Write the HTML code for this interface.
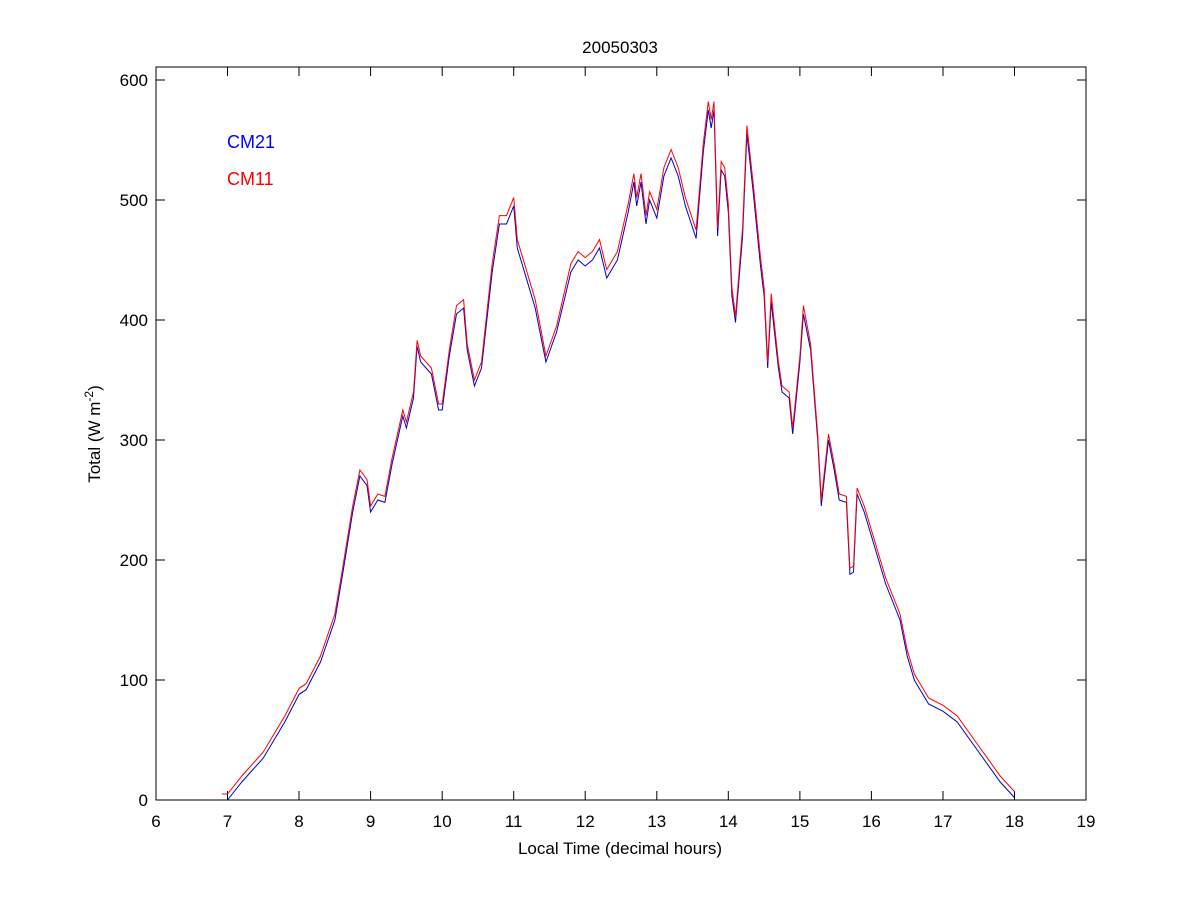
<!DOCTYPE html>
<html><head><meta charset="utf-8"><style>
html,body{margin:0;padding:0;background:#fff;}
svg{display:block;font-family:"Liberation Sans",sans-serif;}
</style></head><body>
<svg id="s" width="1200" height="900" viewBox="0 0 1200 900">
<rect width="1200" height="900" fill="#fff"/>
<rect x="156" y="67" width="930" height="733" fill="#fff" stroke="#000" stroke-width="1"/>
<g stroke="#000" stroke-width="1">
<path d="M227.5 800v-9M299 800v-9M370.6 800v-9M442.2 800v-9M513.7 800v-9M585.2 800v-9M656.8 800v-9M728.3 800v-9M799.9 800v-9M871.4 800v-9M943 800v-9M1014.5 800v-9
M227.5 67v9M299 67v9M370.6 67v9M442.2 67v9M513.7 67v9M585.2 67v9M656.8 67v9M728.3 67v9M799.9 67v9M871.4 67v9M943 67v9M1014.5 67v9
M156 680h9M156 560h9M156 440h9M156 320h9M156 200h9M156 80h9
M1086 680h-9M1086 560h-9M1086 440h-9M1086 320h-9M1086 200h-9M1086 80h-9"/>
</g>
<g font-size="17" fill="#000" text-anchor="middle">
<text x="156" y="827">6</text><text x="227.5" y="827">7</text><text x="299" y="827">8</text><text x="370.6" y="827">9</text><text x="442.2" y="827">10</text><text x="513.7" y="827">11</text><text x="585.2" y="827">12</text><text x="656.8" y="827">13</text><text x="728.3" y="827">14</text><text x="799.9" y="827">15</text><text x="871.4" y="827">16</text><text x="943" y="827">17</text><text x="1014.5" y="827">18</text><text x="1086" y="827">19</text>
</g>
<g font-size="17" fill="#000" text-anchor="end">
<text x="148" y="806">0</text><text x="148" y="686">100</text><text x="148" y="566">200</text><text x="148" y="446">300</text><text x="148" y="326">400</text><text x="148" y="206">500</text><text x="148" y="86">600</text>
</g>
<text x="620" y="53" font-size="17" text-anchor="middle">20050303</text>
<text x="620" y="854" font-size="17" text-anchor="middle">Local Time (decimal hours)</text>
<text transform="translate(100,434) rotate(-90)" font-size="17" text-anchor="middle">Total (W m<tspan dy="-7" font-size="12">-2</tspan><tspan dy="7">)</tspan></text>
<text x="227" y="148" font-size="18" fill="#0000ff">CM21</text>
<text x="227" y="185" font-size="18" fill="#ff0000">CM11</text>
<polyline id="b" fill="none" stroke="#0000cc" stroke-width="1"/>
<polyline id="r" fill="none" stroke="#ff0000" stroke-width="1"/>
</svg>
<script>
var d=[[7,0],[7.2,15],[7.5,35],[7.8,65],[8,88],[8.1,92],[8.3,115],[8.5,150],[8.6,185],[8.75,240],[8.85,270],[8.95,262],[9.0,240],[9.1,250],[9.2,248],[9.3,280],[9.45,320],[9.5,310],[9.6,335],[9.65,378],[9.7,365],[9.85,355],[9.95,325],[10.0,325],[10.1,370],[10.2,405],[10.3,410],[10.35,375],[10.45,345],[10.55,360],[10.7,440],[10.8,480],[10.9,480],[11.0,495],[11.05,460],[11.3,410],[11.45,365],[11.6,390],[11.8,440],[11.9,450],[12.0,445],[12.1,450],[12.2,460],[12.3,435],[12.45,450],[12.6,490],[12.68,515],[12.72,495],[12.78,515],[12.85,480],[12.9,500],[13.0,485],[13.1,520],[13.2,535],[13.3,520],[13.4,495],[13.55,468],[13.65,540],[13.72,575],[13.76,560],[13.8,575],[13.85,470],[13.9,525],[13.95,520],[14.0,490],[14.05,420],[14.1,398],[14.2,470],[14.26,555],[14.35,505],[14.45,445],[14.5,420],[14.55,360],[14.6,415],[14.7,360],[14.75,340],[14.85,335],[14.9,305],[15.0,365],[15.05,405],[15.15,375],[15.25,300],[15.3,245],[15.4,300],[15.48,275],[15.55,250],[15.65,248],[15.7,188],[15.75,190],[15.8,255],[15.9,240],[16.0,220],[16.2,180],[16.4,150],[16.5,120],[16.6,100],[16.8,80],[17.0,74],[17.2,65],[17.5,40],[17.8,15],[18.0,2]];
function px(t,v){return (156+(t-6)*71.54).toFixed(1)+","+(800-v*1.2).toFixed(1);}
var b=[],r=[px(6.92,5)];
d.forEach(function(p,i){b.push(px(p[0],p[1]));var e=p[1]>10?(p[1]>400?7:5):5;r.push(px(p[0],p[1]+e));});
document.getElementById("b").setAttribute("points",b.join(" "));
document.getElementById("r").setAttribute("points",r.join(" "));
</script>
</body></html>
